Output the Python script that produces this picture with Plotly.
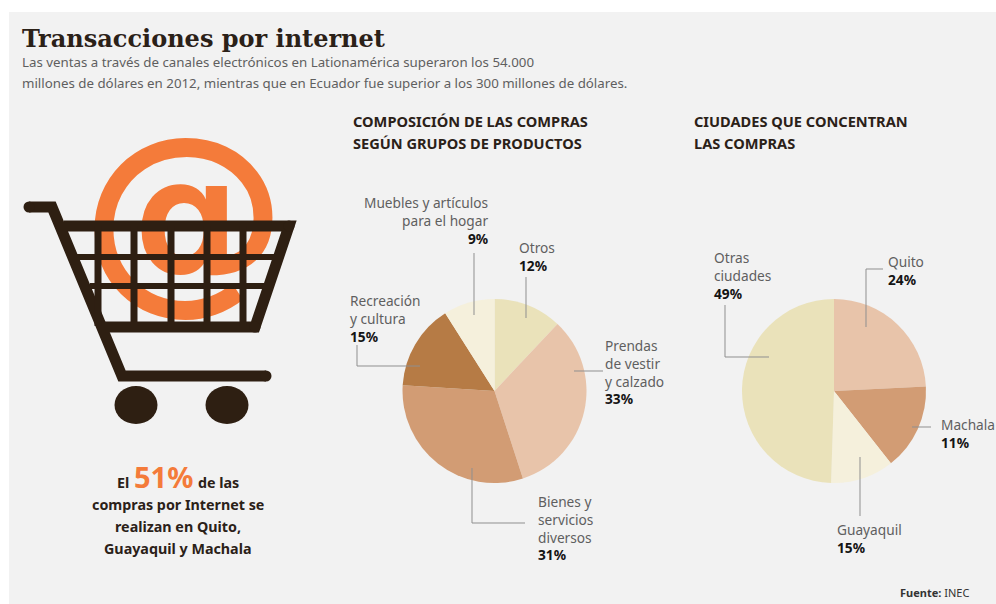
import plotly.graph_objects as go

# ---- data ----
title = "Transacciones por internet"
subtitle_lines = [
    "Las ventas a través de canales electrónicos en Lationamérica superaron los 54.000",
    "millones de dólares en 2012, mientras que en Ecuador fue superior a los 300 millones de dólares.",
]
products = ["Otros", "Prendas de vestir y calzado", "Bienes y servicios diversos",
            "Recreación y cultura", "Muebles y artículos para el hogar"]
products_values = [12, 33, 31, 15, 9]
products_colors = ["#EAE2BA", "#E8C4AA", "#D29C74", "#B67B45", "#F5F0DC"]

cities = ["Quito", "Machala", "Guayaquil", "Otras ciudades"]
# slice sizes as drawn in the reference (Machala's slice is visibly the larger one,
# although its printed label says 11% and Guayaquil's says 15%)
cities_values = [24, 15, 11, 49]
cities_colors = ["#E8C4AA", "#D29C74", "#F5F0DC", "#EAE2BA"]

W, H = 996, 604
BG = "#F2F2F2"
DARK = "#2E1F12"
ORANGE = "#F47B3A"
GREY = "#5F5F5F"
LINE = "#8F8F8F"
SANS = "Noto Sans"


def px(x):
    return x / W


def py(y):
    return 1 - y / H


def pie(values, colors, names, cx, cy, r):
    return go.Pie(
        values=values, labels=names, sort=False, direction="clockwise", rotation=0,
        marker=dict(colors=colors, line=dict(width=0)), textinfo="none",
        hoverinfo="label+percent", showlegend=False,
        domain=dict(x=[px(cx - r), px(cx + r)], y=[py(cy + r), py(cy - r)]),
    )


fig = go.Figure()
fig.add_trace(pie(products_values, products_colors, products, 494.5, 391, 92))
fig.add_trace(pie(cities_values, cities_colors, cities, 834, 391, 92))

# orange @ sits behind the cart: a text trace is drawn under "above" shapes
fig.add_trace(go.Scatter(
    x=[184], y=[232], mode="text", text=["@"], showlegend=False, hoverinfo="skip",
    textposition="middle center",
    textfont=dict(family="DejaVu Sans", size=206, color=ORANGE, weight="bold"),
))

shapes = [dict(type="rect", layer="below", xref="x", yref="y", x0=9, x1=996, y0=12, y1=604,
               fillcolor=BG, line_width=0)]


def stroke(points, width, color=DARK):
    d = "M " + " L ".join(f"{x},{y}" for x, y in points)
    shapes.append(dict(type="path", layer="above", xref="x", yref="y", path=d,
                       line=dict(color=color, width=width)))


def dot(cx, cy, rx, ry=None):
    ry = rx if ry is None else ry
    shapes.append(dict(type="circle", layer="above", xref="x", yref="y",
                       x0=cx - rx, x1=cx + rx, y0=cy - ry, y1=cy + ry,
                       fillcolor=DARK, line_width=0))


# cart: handle and frame
stroke([(29, 207), (52, 207), (122, 376), (266, 376)], 11)
dot(29, 207, 5.5)
dot(266, 376, 5.5)
stroke([(64, 226), (289, 226), (255, 327), (105, 327)], 11)
dot(289, 226, 5.5)
dot(255, 327, 5.5)
# basket grid
stroke([(76, 257), (277, 257)], 6)
stroke([(90, 286), (266, 286)], 6)
for xt in (98, 134, 171, 207, 243):
    stroke([(xt, 226), (xt, 326)], 7)
# wheels
for cx in (136, 227):
    dot(cx, 405, 21.5, 19)

# leader lines
for pts in [
    [(474, 253), (474, 315)],
    [(526, 277), (526, 318)],
    [(357, 345), (357, 366), (420, 366)],
    [(574, 371), (603, 371)],
    [(472, 468), (472, 523), (525, 523)],
    [(883, 269), (866, 269), (866, 327)],
    [(725, 305), (725, 357), (769, 357)],
    [(912, 427), (931, 427)],
    [(860, 457), (860, 516)],
]:
    stroke(pts, 1, LINE)

ann = []


def text(x, y, s, size=14, color=GREY, align="left", family=SANS):
    ann.append(dict(x=x, y=y, xref="x", yref="y", text=s, showarrow=False, xanchor=align,
                    yanchor="middle", align=align, borderpad=0, borderwidth=0,
                    font=dict(family=family, size=size, color=color)))


LAB_SIZE = 13.7
LAB_STEP = 1.3 * LAB_SIZE


def lab(x, y, lines, pct, align="left"):
    body = "<br>".join(lines + [f"<span style='color:#141414'><b>{pct}</b></span>"])
    text(x, y + len(lines) * LAB_STEP / 2, body, LAB_SIZE, GREY, align)


text(22, 38, f"<b>{title}</b>", 24, "#2B2118", family="DejaVu Serif")
text(22, 62, subtitle_lines[0], 13.3)
text(22, 83, subtitle_lines[1], 13.3)

text(353, 121, "<b>COMPOSICIÓN DE LAS COMPRAS</b>", 14.6, "#2B2118")
text(353, 143, "<b>SEGÚN GRUPOS DE PRODUCTOS</b>", 14.6, "#2B2118")
text(694, 121, "<b>CIUDADES QUE CONCENTRAN</b>", 14.6, "#2B2118")
text(694, 143, "<b>LAS COMPRAS</b>", 14.6, "#2B2118")

lab(488, 203, ["Muebles y artículos", "para el hogar"], "9%", "right")
lab(519, 248, ["Otros"], "12%")
lab(350, 301, ["Recreación", "y cultura"], "15%")
lab(605, 345, ["Prendas", "de vestir", "y calzado"], "33%")
lab(538, 501, ["Bienes y", "servicios", "diversos"], "31%")

lab(714, 258, ["Otras", "ciudades"], "49%")
lab(888, 262, ["Quito"], "24%")
lab(941, 425, ["Machala"], "11%")
lab(837, 530, ["Guayaquil"], "15%")

text(129, 482, "<b>El</b>", 14.3, "#2B2118", "right")
text(134, 476, "<b>51%</b>", 29, ORANGE, "left")
text(198, 482, "<b>de las</b>", 14.3, "#2B2118", "left")
text(178, 504, "<b>compras por Internet se</b>", 14.3, "#2B2118", "center")
text(178, 526, "<b>realizan en Quito,</b>", 14.3, "#2B2118", "center")
text(178, 548, "<b>Guayaquil y Machala</b>", 14.3, "#2B2118", "center")

text(900, 592, "<b>Fuente:</b> INEC", 11, "#333333")

fig.update_layout(
    width=W, height=H, margin=dict(l=0, r=0, t=0, b=0),
    paper_bgcolor="white", plot_bgcolor="rgba(0,0,0,0)",
    xaxis=dict(range=[0, W], visible=False, fixedrange=True),
    yaxis=dict(range=[H, 0], visible=False, fixedrange=True),
    shapes=shapes, annotations=ann, showlegend=False,
)
fig.write_html("out.html", config=dict(displayModeBar=False),
               post_script="document.body.style.margin='0';")
